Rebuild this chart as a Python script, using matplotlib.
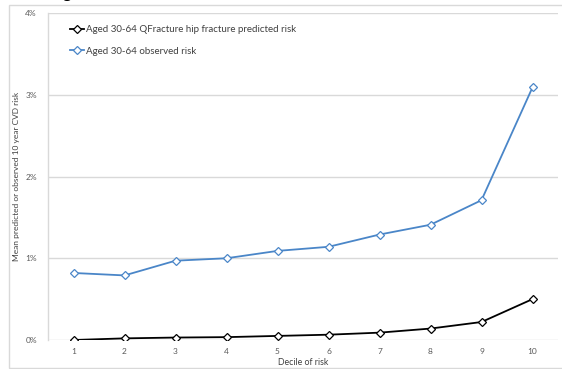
import matplotlib
matplotlib.use("Agg")
import matplotlib.pyplot as plt
from matplotlib.patches import Rectangle

deciles = [1, 2, 3, 4, 5, 6, 7, 8, 9, 10]
predicted = [0.00, 0.02, 0.03, 0.035, 0.05, 0.065, 0.09, 0.14, 0.22, 0.50]
observed = [0.82, 0.79, 0.97, 1.00, 1.09, 1.14, 1.29, 1.41, 1.71, 3.09]
ytick_vals = [0, 1, 2, 3, 4]
ytick_labels = ["0%", "1%", "2%", "3%", "4%"]
series_names = ["Aged 30-64 QFracture hip fracture predicted risk",
                "Aged 30-64 observed risk"]

plt.rcParams['font.family'] = ['Lato', 'DejaVu Sans']

W, H = 562, 369
fig = plt.figure(figsize=(W / 100, H / 100), dpi=100)
fig.patch.set_facecolor("white")

# outer chart frame
fig.add_artist(Rectangle((9 / W, 1 / H), 1.2, (H - 5) / H - 1 / H,
                         transform=fig.transFigure, fill=False,
                         edgecolor="#d9d9d9", linewidth=1))
# cropped title fragment (title is cut off at the top in the reference)
fig.text(63 / W, 1.0 + 1.5 / H, "g", fontsize=12, fontweight="bold",
         va="baseline", ha="left", color="black")

ax = fig.add_axes([48 / W, (H - 340) / H, (558 - 48) / W, (340 - 13) / H])
ax.set_xlim(0.5, 10.5)
ax.set_ylim(0, 4)

ax.plot(deciles, predicted, color="black", linewidth=1.3, marker="D",
        markersize=4.0, markerfacecolor="white", markeredgecolor="black",
        markeredgewidth=0.9, label=series_names[0], zorder=3)
ax.plot(deciles, observed, color="#4a86c8", linewidth=1.3, marker="D",
        markersize=4.0, markerfacecolor="white", markeredgecolor="#4a86c8",
        markeredgewidth=0.9, label=series_names[1], zorder=3)

ax.set_yticks(ytick_vals)
ax.set_yticklabels(ytick_labels)
ax.set_xticks(deciles)
ax.set_xticklabels([str(d) for d in deciles])
ax.tick_params(axis="both", length=0, labelsize=6, labelcolor="#595959")
ax.tick_params(axis="y", pad=8)
ax.tick_params(axis="x", pad=6)
ax.grid(axis="y", color="#d9d9d9", linewidth=1)
ax.set_axisbelow(True)
for s in ["top", "right", "bottom"]:
    ax.spines[s].set_visible(False)
ax.spines["left"].set_color("#d9d9d9")
ax.spines["left"].set_linewidth(1)

ax.set_xlabel("Decile of risk", fontsize=6.3, color="#404040", labelpad=2)
ax.set_ylabel("Mean predicted or observed 10 year CVD risk", fontsize=6.0,
              color="#404040", labelpad=4)

leg = ax.legend(loc="upper left", bbox_to_anchor=(0.025, 0.99), frameon=False,
                fontsize=7, handlelength=1.5, handletextpad=0.2,
                labelspacing=1.3, labelcolor="#404040")

fig.savefig("out.png", dpi=100)
